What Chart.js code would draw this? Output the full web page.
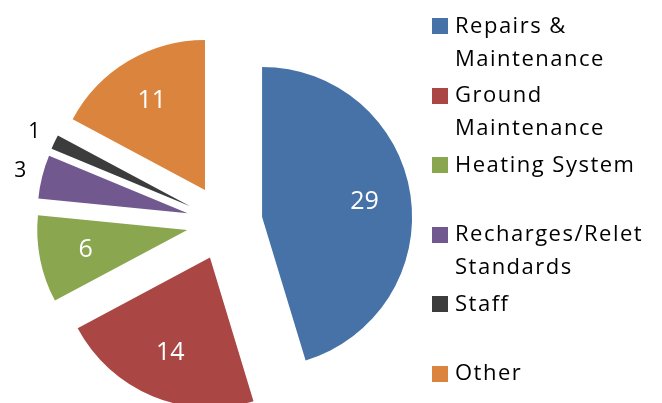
<!DOCTYPE html>
<html lang="en">
<head>
    <meta charset="UTF-8">
    <title>Pie chart</title>
    <script src="https://cdn.jsdelivr.net/npm/chart.js"></script>
    <style>
        html, body { margin: 0; padding: 0; background: #fff; }
        .wrap { position: relative; width: 662px; height: 403px; overflow: hidden; }
        #myChart { position: absolute; left: 0; top: 0; }
        .legend { position: absolute; left: 432px; top: 0; width: 230px; font-family: "Open Sans", sans-serif; font-size: 22px; letter-spacing: 1.5px; color: #000; }
        .legend .item { position: absolute; left: 0; width: 230px; height: 69.5px; }
        .legend .box { position: absolute; left: 0; top: 18px; width: 16px; height: 16px; }
        .legend .text { position: absolute; left: 23px; top: 7.7px; width: 205px; line-height: 33px; }
    </style>
</head>
<body>
<div class="wrap">
    <canvas id="myChart" width="662" height="403"></canvas>
    <div class="legend" id="legend"></div>
</div>
<script>
    const categories = ['Repairs & Maintenance', 'Ground Maintenance', 'Heating System', 'Recharges/Relet Standards', 'Staff', 'Other'];
    const counts = [29, 14, 6, 3, 1, 11];
    const colours = ['#4672A8', '#AA4644', '#8AA64F', '#71588F', '#3C3C3C', '#DB843D'];

    const EXPLODE = 38;

    // pull every slice away from the centre along its middle angle
    const explodePlugin = {
        id: 'explode',
        afterDatasetUpdate(chart, args) {
            args.meta.data.forEach(arc => {
                const mid = (arc.startAngle + arc.endAngle) / 2;
                arc.x += Math.cos(mid) * EXPLODE;
                arc.y += Math.sin(mid) * EXPLODE;
            });
        }
    };

    // value labels: white inside big slices, black outside small ones
    const labelPlugin = {
        id: 'sliceLabels',
        afterDatasetsDraw(chart) {
            const ctx = chart.ctx;
            const meta = chart.getDatasetMeta(0);
            const total = counts.reduce((a, b) => a + b, 0);
            ctx.save();
            ctx.textAlign = 'center';
            ctx.textBaseline = 'middle';
            meta.data.forEach((arc, i) => {
                const mid = (arc.startAngle + arc.endAngle) / 2;
                const inside = counts[i] / total > 0.06;
                const r = arc.outerRadius * (inside ? 0.69 : 1.15);
                ctx.font = inside ? '25px "Open Sans"' : '21px "Open Sans"';
                ctx.fillStyle = inside ? '#fff' : '#000';
                ctx.fillText(String(counts[i]), arc.x + Math.cos(mid) * r, arc.y + Math.sin(mid) * r);
            });
            ctx.restore();
        }
    };

    const ctx = document.getElementById('myChart').getContext('2d');
    new Chart(ctx, {
        type: 'pie',
        data: {
            labels: categories,
            datasets: [{
                data: counts,
                backgroundColor: colours,
                borderWidth: 0
            }]
        },
        options: {
            responsive: false,
            animation: false,
            radius: 150,
            layout: { padding: { left: 0, right: 213, top: 42, bottom: 0 } },
            plugins: {
                legend: { display: false },
                tooltip: { enabled: false }
            }
        },
        plugins: [explodePlugin, labelPlugin]
    });

    const legend = document.getElementById('legend');
    categories.forEach((name, i) => {
        const item = document.createElement('div');
        item.className = 'item';
        item.style.top = (i * 69.5) + 'px';
        item.innerHTML = '<div class="box" style="background:' + colours[i] + '"></div><div class="text"></div>';
        item.querySelector('.text').textContent = name;
        legend.appendChild(item);
    });
</script>
</body>
</html>
